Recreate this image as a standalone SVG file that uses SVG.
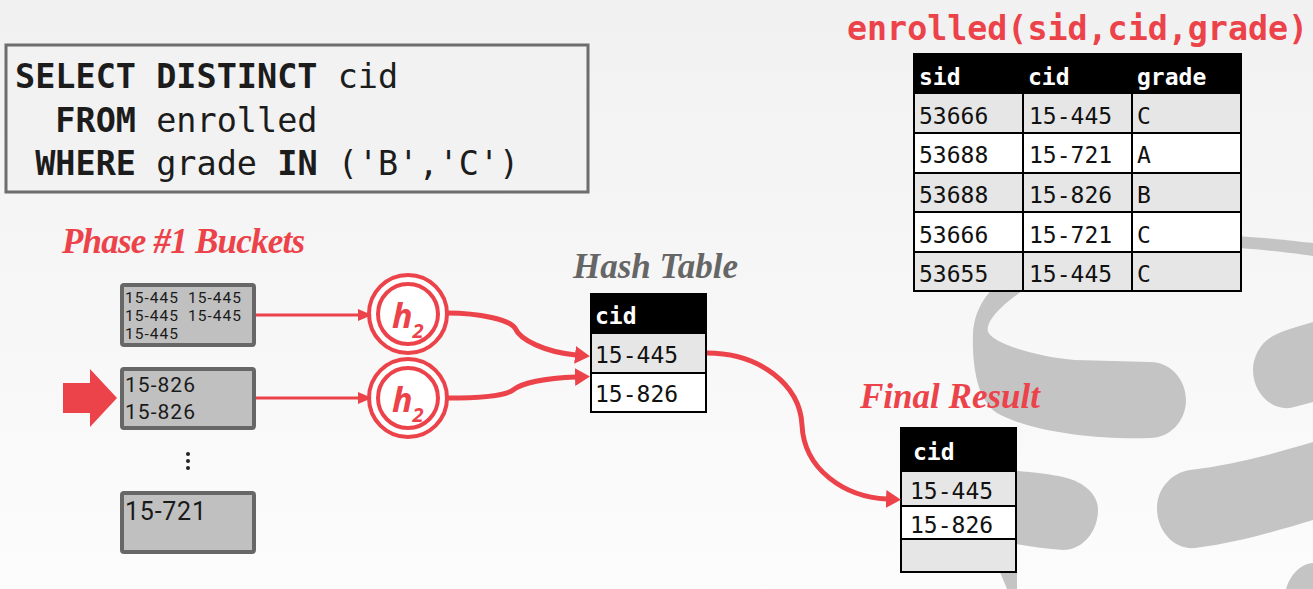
<svg xmlns="http://www.w3.org/2000/svg" width="1313" height="589" viewBox="0 0 1313 589">
<defs>
<linearGradient id="bgGrad" x1="0" y1="0" x2="0" y2="1">
<stop offset="0" stop-color="#f1f1f1"/>
<stop offset="1" stop-color="#fcfcfc"/>
</linearGradient>
<marker id="arrThin" markerUnits="userSpaceOnUse" markerWidth="16" markerHeight="16" viewBox="0 0 16 16" refX="1" refY="8" orient="auto">
<path d="M0,2 L14,8 L0,14 Z" fill="#ec434b"/>
</marker>
<marker id="arrThick" markerUnits="userSpaceOnUse" markerWidth="20" markerHeight="22" viewBox="0 0 20 22" refX="1" refY="11" orient="auto">
<path d="M0,2 L15,11 L0,20 Z" fill="#ec434b"/>
</marker>
</defs>
<style>
.sql{font-family:"DejaVu Sans Mono",monospace;font-size:33.5px;fill:#1c1c1c}
.kw{font-weight:bold}
.ttl{font-family:"Liberation Serif",serif;font-style:italic;font-weight:bold;font-size:35px}
.red{fill:#ec434b}
.gray{fill:#666666}
.cell{font-family:"DejaVu Sans Mono",monospace;font-size:23px;fill:#111111}
.head{font-weight:bold;fill:#ffffff}
.bk{fill:#c0c0c0;stroke:#676767;stroke-width:4}
.btxt{font-family:Roboto,sans-serif;fill:#1a1a1a}
.conn{fill:none;stroke:#ec434b;stroke-linecap:butt}
.ring{fill:#ffffff;stroke:#ec434b;stroke-width:4}
.hx{font-family:"Open Sans",sans-serif;font-style:italic;font-weight:bold;fill:#ec434b}
.grid{stroke:#000;stroke-width:2;fill:none}
.alt{fill:#e6e6e6}
.wht{fill:#ffffff}
.logo{fill:#c4c4c4}
</style>
<rect x="0" y="0" width="1313" height="589" fill="url(#bgGrad)"/>

<g id="bg-logo">
<path class="logo" d="M1150,362 C1171,362 1186,380 1186,400 C1186,421 1170,438 1150,438 C1100,440 1030,432 997,413 C976,400 972,362 973,333 C975,300 1000,272 1045,258 C1100,238 1190,232 1250,237 C1280,239 1300,242 1313,243 L1313,256 C1295,253 1265,250 1240,248 C1170,245 1075,255 1040,280 C1005,300 985,320 988,332 C995,345 1040,357 1075,360 Z"/>
<path class="logo" d="M1313,322 C1300,326 1285,330 1277,334 C1262,340 1253,355 1253,370 C1253,392 1270,410 1290,408 C1298,406 1306,404 1313,402 Z"/>
<path class="logo" d="M960,468 C990,468 1040,472 1063,477 C1085,482 1098,495 1098,510 C1098,532 1082,550 1063,550 C1030,548 990,540 960,530 Z"/>
<path class="logo" d="M1313,442 C1270,455 1230,465 1190,470 C1170,473 1157,490 1157,508 C1157,532 1175,550 1195,548 C1240,542 1280,530 1313,520 Z"/>
<path class="logo" d="M1313,563 C1300,564 1290,575 1286,589 L1313,589 Z"/>
<path class="logo" d="M995,560 L1017,560 L1017,589 L1007,589 Z"/>
</g>

<g id="sql-query">
<rect x="6" y="45" width="582" height="147" fill="#f2f2f2" stroke="#6d6d6d" stroke-width="3"/>
<text class="sql" x="15" y="88" xml:space="preserve"><tspan class="kw">SELECT DISTINCT</tspan> cid</text>
<text class="sql" x="55.3" y="132" xml:space="preserve"><tspan class="kw">FROM</tspan> enrolled</text>
<text class="sql" x="35.2" y="175" xml:space="preserve"><tspan class="kw">WHERE</tspan> grade <tspan class="kw">IN</tspan> ('B','C')</text>
</g>

<g id="enrolled-table">
<text x="847" y="40" font-family="'DejaVu Sans Mono',monospace" font-weight="bold" font-size="33.3" class="red">enrolled(sid,cid,grade)</text>
<rect x="913" y="53" width="329" height="41" fill="#000"/>
<rect class="alt" x="913" y="94" width="329" height="39"/>
<rect class="wht" x="913" y="133" width="329" height="40"/>
<rect class="alt" x="913" y="173" width="329" height="39"/>
<rect class="wht" x="913" y="212" width="329" height="40"/>
<rect class="alt" x="913" y="252" width="329" height="40"/>
<path class="grid" d="M913,133 H1242 M913,173 H1242 M913,212 H1242 M913,252 H1242 M1023,94 V292 M1132,94 V292"/>
<rect class="grid" x="914" y="54" width="327" height="237" stroke-width="2.5"/>
<text class="cell head" x="919" y="85">sid</text>
<text class="cell head" x="1028" y="85">cid</text>
<text class="cell head" x="1137" y="85">grade</text>
<text class="cell" x="919" y="124">53666</text><text class="cell" x="1029" y="124">15-445</text><text class="cell" x="1137" y="124">C</text>
<text class="cell" x="919" y="163">53688</text><text class="cell" x="1029" y="163">15-721</text><text class="cell" x="1137" y="163">A</text>
<text class="cell" x="919" y="203">53688</text><text class="cell" x="1029" y="203">15-826</text><text class="cell" x="1137" y="203">B</text>
<text class="cell" x="919" y="243">53666</text><text class="cell" x="1029" y="243">15-721</text><text class="cell" x="1137" y="243">C</text>
<text class="cell" x="919" y="282">53655</text><text class="cell" x="1029" y="282">15-445</text><text class="cell" x="1137" y="282">C</text>
</g>

<g id="phase1-label">
<text class="ttl red" x="62" y="253" textLength="243">Phase #1 Buckets</text>
</g>

<g id="bucket-1">
<rect class="bk" x="122" y="285" width="132" height="60" rx="2"/>
<text class="btxt" font-size="15.5" x="125" y="303" textLength="53">15-445</text>
<text class="btxt" font-size="15.5" x="188" y="303" textLength="53">15-445</text>
<text class="btxt" font-size="15.5" x="125" y="321" textLength="53">15-445</text>
<text class="btxt" font-size="15.5" x="188" y="321" textLength="53">15-445</text>
<text class="btxt" font-size="15.5" x="125" y="339" textLength="53">15-445</text>
</g>

<g id="bucket-2">
<rect class="bk" x="122" y="369" width="132" height="59" rx="2"/>
<text class="btxt" font-size="21" x="125" y="392" textLength="70">15-826</text>
<text class="btxt" font-size="21" x="125" y="419" textLength="70">15-826</text>
</g>

<g id="current-pointer">
<polygon points="63,383 90,383 90,369 117,398 90,427 90,413 63,413" fill="#ec434b"/>
</g>

<g id="ellipsis">
<circle cx="188" cy="454" r="2" fill="#222"/>
<circle cx="188" cy="461" r="2" fill="#222"/>
<circle cx="188" cy="468" r="2" fill="#222"/>
</g>

<g id="bucket-3">
<rect class="bk" x="122" y="493" width="132" height="59" rx="2"/>
<text class="btxt" font-size="25" x="125" y="520" textLength="81">15-721</text>
</g>

<g id="hash-1">
<circle class="ring" cx="408" cy="314" r="39"/>
<circle class="ring" cx="408" cy="314" r="30"/>
<text class="hx" font-size="34" x="392" y="328">h<tspan font-size="20" dy="10">2</tspan></text>
</g>

<g id="hash-2">
<circle class="ring" cx="408" cy="398" r="39"/>
<circle class="ring" cx="408" cy="398" r="30"/>
<text class="hx" font-size="34" x="392" y="412">h<tspan font-size="20" dy="10">2</tspan></text>
</g>

<g id="hash-table">
<text class="ttl gray" x="573" y="278" textLength="165">Hash Table</text>
<rect x="590" y="293" width="117" height="41" fill="#000"/>
<rect class="alt" x="590" y="334" width="117" height="39"/>
<rect class="wht" x="590" y="373" width="117" height="40"/>
<path class="grid" d="M590,373 H707"/>
<rect class="grid" x="591" y="294" width="115" height="118"/>
<text class="cell head" x="595" y="324">cid</text>
<text class="cell" x="595" y="363">15-445</text>
<text class="cell" x="595" y="402">15-826</text>
</g>

<g id="final-result">
<text class="ttl red" x="860" y="408" textLength="180">Final Result</text>
<rect x="900" y="427" width="117" height="45" fill="#000"/>
<rect class="alt" x="900" y="472" width="117" height="34"/>
<rect class="wht" x="900" y="506" width="117" height="33"/>
<rect class="alt" x="900" y="539" width="117" height="34"/>
<path class="grid" d="M900,506 H1017 M900,539 H1017"/>
<rect class="grid" x="901" y="428" width="115" height="144"/>
<text class="cell head" x="913" y="460">cid</text>
<text class="cell" x="910" y="499">15-445</text>
<text class="cell" x="910" y="533">15-826</text>
</g>

<g id="connectors">
<path class="conn" stroke-width="3" d="M256,315 H359" marker-end="url(#arrThin)"/>
<path class="conn" stroke-width="3" d="M256,398 H359" marker-end="url(#arrThin)"/>
<path class="conn" stroke-width="5" d="M447,313 C480,313 510,320 515,328 C520,340 545,352 576,355" marker-end="url(#arrThick)"/>
<path class="conn" stroke-width="5" d="M447,398 C480,398 505,396 513,390 C522,383 545,378 576,377" marker-end="url(#arrThick)"/>
<path class="conn" stroke-width="5" d="M707,353 C760,353 800,385 802,425 C804,470 845,497 887,499" marker-end="url(#arrThick)"/>
</g>
</svg>
